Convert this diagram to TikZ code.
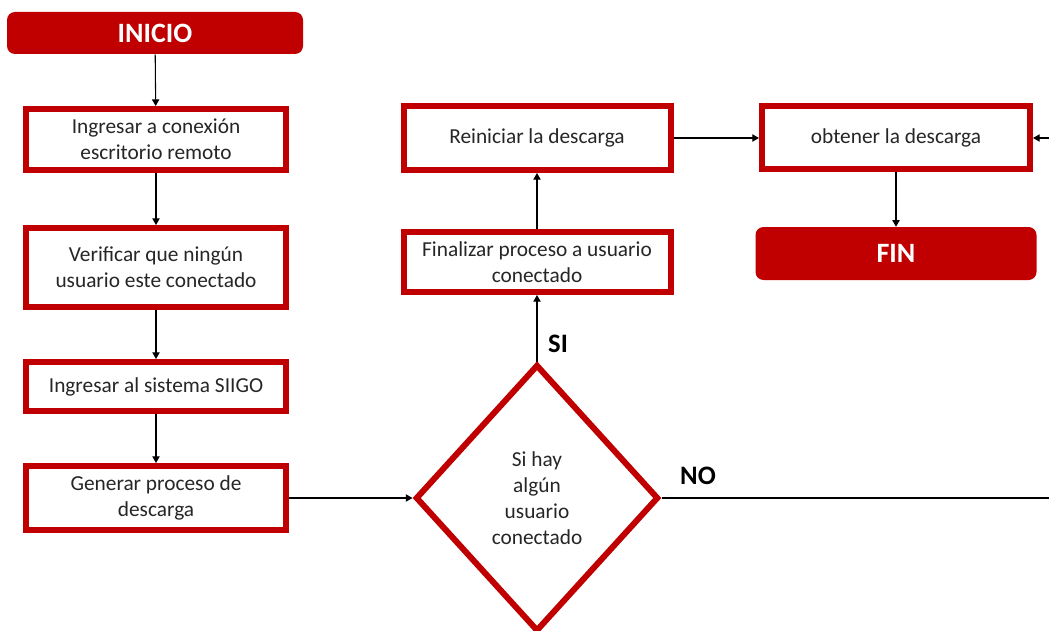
\documentclass[tikz,border=0pt]{standalone}
\usepackage{fontspec}
\setmainfont{Carlito}
\usetikzlibrary{shapes.geometric,arrows.meta}

\definecolor{rojo}{HTML}{C00000}

\begin{document}
\begin{tikzpicture}[x=0.75pt, y=-0.75pt,
	caja/.style={draw=rojo, line width=4.5pt, fill=white, inner sep=0pt, align=center,
		text=black!85, font=\fontsize{16}{19.5}\selectfont},
	extremo/.style={fill=rojo, rounded corners=6pt, inner sep=0pt, text=white,
		font=\fontsize{21}{24}\selectfont\bfseries},
	rombo/.style={diamond, draw=rojo, line width=4.5pt, fill=white, inner sep=0pt, align=center,
		text=black!85, font=\fontsize{16}{19.5}\selectfont},
	etiqueta/.style={font=\fontsize{20}{24}\selectfont\bfseries},
	flecha/.style={line width=0.8pt, -{Triangle[length=5pt,width=5.5pt]}},
	linea/.style={line width=0.8pt}]
	\useasboundingbox (0,0) rectangle (1049,631);

	% inicio y fin
	\node[extremo, minimum width=222pt, minimum height=31.5pt] (inicio) at (155,33) {INICIO};
	\node[extremo, minimum width=210.75pt, minimum height=39.75pt] (fin) at (896,253.5) {FIN};

	% columna izquierda
	\node[caja, minimum width=195pt, minimum height=45.75pt] (ingresar) at (156,139.5) {Ingresar a conexión\\escritorio remoto};
	\node[caja, minimum width=195pt, minimum height=59.25pt] (verificar) at (156,267.5) {Verificar que ningún\\usuario este conectado};
	\node[caja, minimum width=195pt, minimum height=36.75pt] (siigo) at (156,386.5) {Ingresar al sistema SIIGO};
	\node[caja, minimum width=195pt, minimum height=48pt] (generar) at (156,498) {Generar proceso de\\descarga};

	% decision
	\node[rombo, minimum width=182.25pt, minimum height=200.25pt] (decision) at (537,498) {Si hay\\algún\\usuario\\conectado};

	% columna derecha
	\node[caja, minimum width=200.25pt, minimum height=45pt] (finalizar) at (537,262) {Finalizar proceso a usuario\\conectado};
	\node[caja, minimum width=200.25pt, minimum height=48pt] (reiniciar) at (537,138) {Reiniciar la descarga};
	\node[caja, minimum width=201pt, minimum height=47.25pt] (obtener) at (896,138) {obtener la descarga};

	\coordinate (noend) at (1049,498);
	\coordinate (retorno) at (1049,138);

	% conectores
	\draw[flecha] (inicio) -- (ingresar);
	\draw[flecha] (ingresar) -- (verificar);
	\draw[flecha] (verificar) -- (siigo);
	\draw[flecha] (siigo) -- (generar);
	\draw[flecha] (generar.east) -- (decision.west);
	\draw[flecha] (decision.north) -- (finalizar.south);
	\draw[flecha] (finalizar) -- (reiniciar);
	\draw[flecha] (reiniciar.east) -- (obtener.west);
	\draw[flecha] (obtener) -- (fin);
	\draw[flecha] (retorno) -- (obtener.east);
	\draw[linea] (decision.east) -- (noend);

	\node[etiqueta] (si) at (558,344) {SI};
	\node[etiqueta] (no) at (698,476) {NO};
\end{tikzpicture}
\end{document}
